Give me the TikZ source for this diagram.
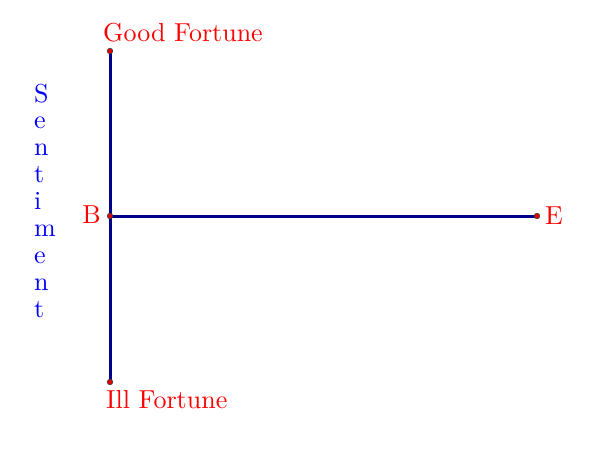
\documentclass[tikz,border=0pt]{standalone}
\usepackage{fontspec}
\setmainfont{lmroman10-regular.otf}
\definecolor{axisblue}{RGB}{0,0,139}
\definecolor{lblred}{RGB}{255,0,0}
\definecolor{lblblue}{RGB}{0,0,255}
\begin{document}
\begin{tikzpicture}[x=1pt,y=-1pt,
  axis/.style={draw=axisblue,line width=3pt},
  pt/.style={circle,fill=red!90!black,draw=black!75,line width=0.7pt,inner sep=0pt,minimum size=5.5pt},
  lbl/.style={text=lblred,font=\fontsize{26}{27}\selectfont,inner sep=0pt},
  vlbl/.style={text=lblblue,font=\fontsize{26}{27}\selectfont,inner sep=0pt,anchor=base west}]
\useasboundingbox (0,0) rectangle (598,453);
\coordinate (G) at (110,51);
\coordinate (I) at (110,382);
\coordinate (B) at (110,216);
\coordinate (E) at (537,216);
\draw[axis] (G) -- (I);
\draw[axis] (B) -- (E);
\node[pt] (pG) at (G) {};
\node[pt] (pI) at (I) {};
\node[pt] (pB) at (B) {};
\node[pt] (pE) at (E) {};
\node[lbl,anchor=base west] (tG) at (103,41) {Good Fortune};
\node[lbl,anchor=base west] (tI) at (106,408) {Ill Fortune};
\node[lbl,anchor=base east] (tB) at (101,223) {B};
\node[lbl,anchor=base west] (tE) at (545,224) {E};
\node[vlbl] (s1) at (34,102) {S};
\node[vlbl] (s2) at (34,128.9) {e};
\node[vlbl] (s3) at (34,155.8) {n};
\node[vlbl] (s4) at (34,182.7) {t};
\node[vlbl] (s5) at (34,209.6) {i};
\node[vlbl] (s6) at (34,236.5) {m};
\node[vlbl] (s7) at (34,263.4) {e};
\node[vlbl] (s8) at (34,290.3) {n};
\node[vlbl] (s9) at (34,317.2) {t};
\end{tikzpicture}
\end{document}
